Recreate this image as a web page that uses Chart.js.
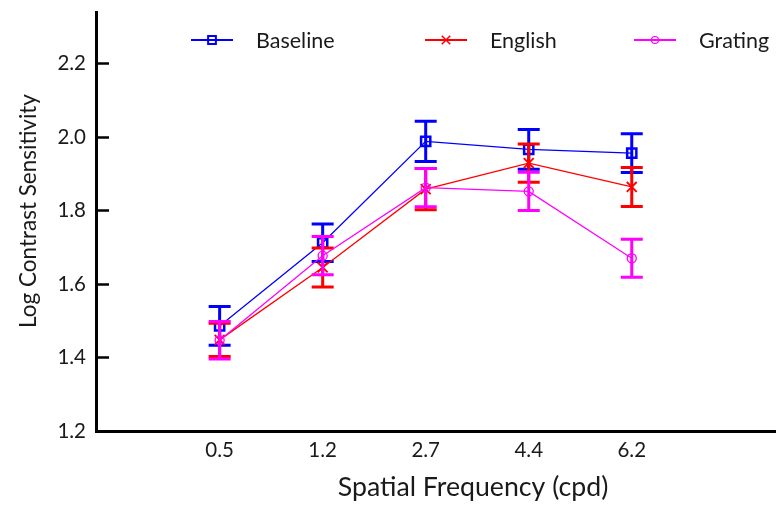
<!DOCTYPE html>
<html>
<head>
<meta charset="utf-8">
<script src="https://cdn.jsdelivr.net/npm/chart.js@4.4.1/dist/chart.umd.min.js"></script>
<style>
  html, body { margin: 0; padding: 0; background: #fff; }
  #wrap { width: 776px; height: 506px; }
</style>
</head>
<body>
<div id="wrap"><canvas id="myChart"></canvas></div>
<script>
const frequencies = ['0.5', '1.2', '2.7', '4.4', '6.2'];
const yTicks = [1.2, 1.4, 1.6, 1.8, 2.0, 2.2];

const baseline    = [1.486, 1.712, 1.988, 1.966, 1.956];
const baselineErr = [0.053, 0.051, 0.055, 0.054, 0.053];
const english     = [1.448, 1.645, 1.858, 1.929, 1.864];
const englishErr  = [0.045, 0.053, 0.056, 0.052, 0.053];
const grating     = [1.447, 1.677, 1.862, 1.852, 1.670];
const gratingErr  = [0.051, 0.052, 0.052, 0.052, 0.052];

const xTitle = 'Spatial Frequency (cpd)';
const yTitle = 'Log Contrast Sensitivity';
const FONT = 'Lato, "Open Sans", sans-serif';

const toPoints = vals => vals.map((v, i) => ({ x: i, y: v }));

// vertical bars with caps, drawn right after each dataset
const errorBars = {
  id: 'errorBars',
  afterDatasetDraw(chart, args) {
    const ds = chart.data.datasets[args.index];
    if (!ds.errors) return;
    const { ctx, scales: { x, y } } = chart;
    ctx.save();
    ctx.strokeStyle = ds.barColor;
    ctx.lineWidth = 3;
    ds.data.forEach((p, i) => {
      const px = x.getPixelForValue(p.x);
      const top = y.getPixelForValue(p.y + ds.errors[i]);
      const bot = y.getPixelForValue(p.y - ds.errors[i]);
      ctx.beginPath();
      ctx.moveTo(px, top); ctx.lineTo(px, bot);
      ctx.moveTo(px - 11, top); ctx.lineTo(px + 11, top);
      ctx.moveTo(px - 11, bot); ctx.lineTo(px + 11, bot);
      ctx.stroke();
    });
    ctx.restore();
  }
};

// inward tick marks on the y axis, both axis titles
const axisExtras = {
  id: 'axisExtras',
  afterDraw(chart) {
    const { ctx, scales: { x, y } } = chart;
    ctx.save();
    ctx.strokeStyle = '#000';
    ctx.lineWidth = 2.5;
    yTicks.slice(1).forEach(v => {
      const py = Math.round(y.getPixelForValue(v)) + 0.5;
      ctx.beginPath();
      ctx.moveTo(x.left, py);
      ctx.lineTo(x.left + 13, py);
      ctx.stroke();
    });
    ctx.fillStyle = '#1a1a1a';
    ctx.textAlign = 'center';
    ctx.textBaseline = 'middle';
    ctx.font = '26.7px ' + FONT;
    ctx.fillText(xTitle, 473, 487);
    ctx.translate(29, 211);
    ctx.rotate(-Math.PI / 2);
    ctx.font = '22.5px ' + FONT;
    ctx.fillText(yTitle, 0, 0);
    ctx.restore();
  }
};

// legend row: short line with the marker in the middle, then the label
const lineLegend = {
  id: 'lineLegend',
  afterDraw(chart) {
    const { ctx } = chart;
    const starts = [191, 425, 634];
    const y0 = 40;
    ctx.save();
    chart.data.datasets.forEach((ds, i) => {
      const x0 = starts[i];
      ctx.strokeStyle = ds.borderColor;
      ctx.lineWidth = 2;
      ctx.beginPath();
      ctx.moveTo(x0, y0);
      ctx.lineTo(x0 + 42, y0);
      ctx.stroke();
      ctx.lineWidth = ds.legendMarker.borderWidth;
      ctx.fillStyle = 'rgba(0,0,0,0)';
      Chart.helpers.drawPoint(ctx, {
        pointStyle: ds.pointStyle,
        radius: ds.legendMarker.radius,
        borderWidth: ds.legendMarker.borderWidth,
        rotation: 0
      }, x0 + 21, y0);
      ctx.fillStyle = '#1a1a1a';
      ctx.font = '21.5px ' + FONT;
      ctx.textAlign = 'left';
      ctx.textBaseline = 'middle';
      ctx.fillText(ds.label, x0 + 65, y0 + 1);
    });
    ctx.restore();
  }
};

const ctx = document.getElementById('myChart');

const chart = new Chart(ctx, {
  type: 'line',
  data: {
    datasets: [
      {
        label: 'Baseline',
        data: toPoints(baseline),
        errors: baselineErr,
        borderColor: '#0000ff',
        barColor: '#0000ff',
        borderWidth: 1.3,
        pointStyle: 'rect',
        pointRadius: 6.5,
        pointBorderWidth: 2.5,
        pointBackgroundColor: 'rgba(0,0,0,0)',
        pointBorderColor: '#0000ff',
        legendMarker: { radius: 5.5, borderWidth: 2 },
        order: 3
      },
      {
        label: 'English',
        data: toPoints(english),
        errors: englishErr,
        borderColor: '#ff0000',
        barColor: '#ff0000',
        borderWidth: 1.3,
        pointStyle: 'crossRot',
        pointRadius: 7,
        pointBorderWidth: 1.8,
        pointBorderColor: '#ff0000',
        legendMarker: { radius: 6, borderWidth: 1.5 },
        order: 2
      },
      {
        label: 'Grating',
        data: toPoints(grating),
        errors: gratingErr,
        borderColor: '#ff00ff',
        barColor: '#ff00ff',
        borderWidth: 1.3,
        pointStyle: 'circle',
        pointRadius: 4.5,
        pointBorderWidth: 1.3,
        pointBackgroundColor: 'rgba(0,0,0,0)',
        pointBorderColor: '#ff00ff',
        legendMarker: { radius: 3.5, borderWidth: 1.2 },
        order: 1
      }
    ]
  },
  options: {
    responsive: true,
    maintainAspectRatio: false,
    animation: false,
    layout: { autoPadding: false, padding: { top: 12, right: 0, left: 0, bottom: 0 } },
    plugins: {
      legend: { display: false },
      tooltip: { enabled: false }
    },
    elements: { line: { tension: 0 } },
    scales: {
      x: {
        type: 'linear',
        min: -1.2,
        max: 5.4,
        afterBuildTicks: s => { s.ticks = frequencies.map((_, i) => ({ value: i })); },
        afterFit: s => {
          s.height = 75;
          s.paddingLeft = 0;
          s.paddingRight = 0;
        },
        ticks: {
          callback: v => frequencies[v],
          color: '#1a1a1a',
          font: { family: FONT, size: 20.5 },
          padding: 7,
          autoSkip: false,
          maxRotation: 0
        },
        grid: { display: false, drawTicks: false },
        border: { display: true, color: '#000', width: 3 }
      },
      y: {
        min: 1.2,
        max: 2.34,
        afterBuildTicks: s => { s.ticks = yTicks.map(v => ({ value: v })); },
        afterFit: s => {
          s.width = 96;
          s.paddingTop = 0;
          s.paddingBottom = 0;
        },
        ticks: {
          callback: v => v.toFixed(1),
          color: '#1a1a1a',
          font: { family: FONT, size: 20.5 },
          padding: 10
        },
        grid: { display: false, drawTicks: false },
        border: { display: true, color: '#000', width: 3 }
      }
    }
  },
  plugins: [errorBars, axisExtras, lineLegend]
});
</script>
</body>
</html>
